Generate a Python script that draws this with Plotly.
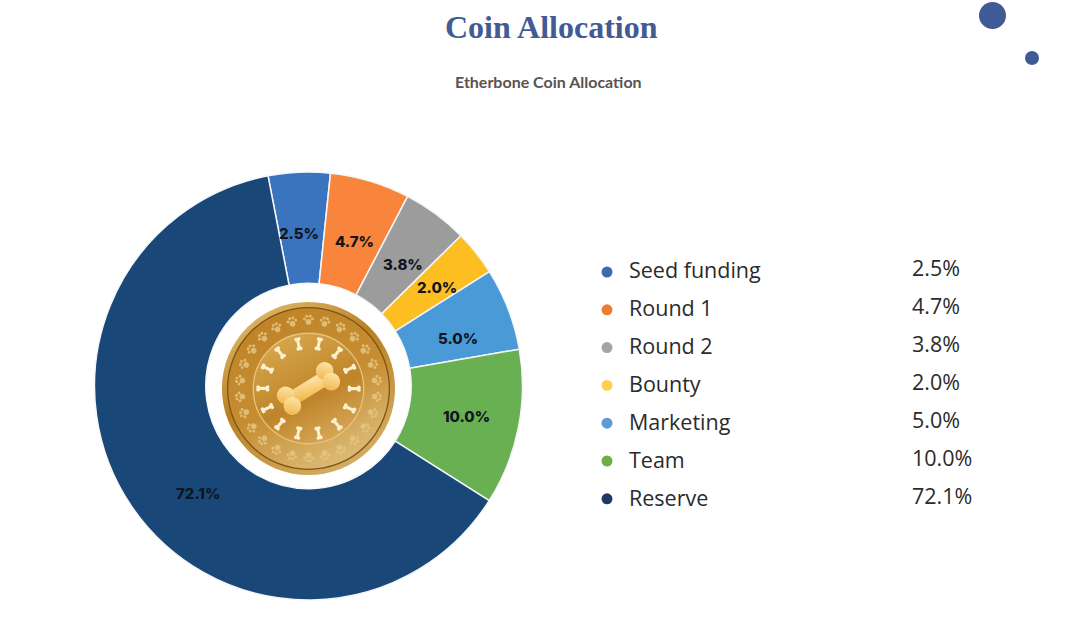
import base64
import math
import plotly.graph_objects as go

categories = ["Seed funding", "Round 1", "Round 2", "Bounty", "Marketing", "Team", "Reserve"]
# printed percentages
printed = ["2.5%", "4.7%", "3.8%", "2.0%", "5.0%", "10.0%", "72.1%"]
# wedge sizes as drawn in the picture (degrees), they do not follow the printed numbers
wedge_deg = [16.8, 21.7, 17.8, 12.3, 22.4, 42.3, 226.7]
slice_colors = ["#3A74BE", "#F9843B", "#9C9C9C", "#FDBE22", "#4A9AD8", "#69B052", "#184778"]
dot_colors = ["#4169B0", "#ED7D31", "#A5A5A5", "#FFD050", "#5B9BD5", "#70AD47", "#1F3864"]

# where each wedge label sits relative to the wedge middle
label_nudge_deg = [-1, 1, 1.3, 0.9, 3.3, -0.25, -9.85]
label_radius = [153, 152, 154, 162, 157, 161, 154]

START_DEG = -10.9
W, H = 1080, 617
CX, CY, R = 308.5, 386, 214


def px(x):
    return x / W


def py(y):
    return 1 - y / H


def bone(cx, cy, scale, angle, fill):
    return (
        f'<g transform="translate({cx:.1f} {cy:.1f}) rotate({angle:.1f}) scale({scale})" fill="{fill}">'
        '<rect x="-20" y="-7" width="40" height="14"/>'
        '<circle cx="-22" cy="-6" r="8.5"/><circle cx="-22" cy="6" r="8.5"/>'
        '<circle cx="22" cy="-6" r="8.5"/><circle cx="22" cy="6" r="8.5"/></g>'
    )


def paw(cx, cy, angle):
    return (
        f'<g transform="translate({cx:.1f} {cy:.1f}) rotate({angle:.1f}) scale(1.3)" fill="#E6C680" opacity="0.85">'
        '<circle cx="0" cy="3" r="5"/><circle cx="-7" cy="-2" r="2.6"/><circle cx="-3" cy="-7" r="2.6"/>'
        '<circle cx="3" cy="-7" r="2.6"/><circle cx="7" cy="-2" r="2.6"/></g>'
    )


def coin_svg():
    parts = [
        '<svg xmlns="http://www.w3.org/2000/svg" width="400" height="400" viewBox="0 0 400 400"><defs>',
        '<linearGradient id="rim" x1="0" y1="0" x2="0.6" y2="1"><stop offset="0" stop-color="#E9C77A"/>'
        '<stop offset="0.5" stop-color="#B97F22"/><stop offset="1" stop-color="#D2AB5E"/></linearGradient>',
        '<linearGradient id="band" x1="0.2" y1="0" x2="0.7" y2="1"><stop offset="0" stop-color="#BE8226"/>'
        '<stop offset="0.55" stop-color="#C68E33"/><stop offset="1" stop-color="#DDBE7C"/></linearGradient>',
        '<linearGradient id="mid" x1="0.2" y1="0" x2="0.7" y2="1"><stop offset="0" stop-color="#D9A94E"/>'
        '<stop offset="0.6" stop-color="#BE8429"/><stop offset="1" stop-color="#D8A95A"/></linearGradient>',
        '<linearGradient id="big" x1="0" y1="1" x2="1" y2="0"><stop offset="0" stop-color="#F0B13F"/>'
        '<stop offset="1" stop-color="#FFEBB8"/></linearGradient></defs>',
        '<circle cx="200" cy="200" r="199" fill="url(#rim)"/>',
        '<circle cx="200" cy="200" r="186" fill="url(#band)" stroke="#7E5313" stroke-width="3"/>',
        '<circle cx="200" cy="200" r="127" fill="url(#mid)" stroke="#E6C27C" stroke-width="3"/>',
    ]
    for i in range(26):
        a = math.radians(i * 360 / 26)
        parts.append(paw(200 + 157 * math.sin(a), 200 - 157 * math.cos(a), i * 360 / 26))
    for i in range(14):
        a = math.radians(i * 360 / 14 + 13)
        parts.append(bone(200 + 105 * math.sin(a), 200 - 105 * math.cos(a), 0.5,
                          i * 360 / 14 + 103, "#FBF0CF"))
    parts.append(bone(200, 200, 2.4, -32, "url(#big)"))
    parts.append("</svg>")
    return "".join(parts)


coin_src = "data:image/svg+xml;base64," + base64.b64encode(coin_svg().encode()).decode()

fig = go.Figure()

fig.add_trace(go.Pie(
    labels=categories,
    values=wedge_deg,
    textinfo="none",
    sort=False,
    direction="clockwise",
    rotation=START_DEG,
    hole=0.48,
    marker=dict(colors=slice_colors, line=dict(color="#F4F6F8", width=1.5)),
    domain=dict(x=[px(CX - R), px(CX + R)], y=[py(CY + R), py(CY - R)]),
    showlegend=False,
    hoverinfo="label",
))

# wedge labels, placed from the wedge angles
annotations = []
edge = START_DEG
for share, text, nudge, rad in zip(wedge_deg, printed, label_nudge_deg, label_radius):
    mid = math.radians(edge + share / 2 + nudge)
    edge += share
    annotations.append(dict(text=text, x=CX + rad * math.sin(mid), y=CY - rad * math.cos(mid),
                            xref="x", yref="y", showarrow=False,
                            font=dict(family="Inter", size=15, color="#10151F", weight=800)))

# legend table, drawn on a hidden pixel axis
dot_rows = [272 + 37.8 * i for i in range(len(categories))]
name_rows = [273 + 38 * i for i in range(len(categories))]
value_rows = [271 + 38 * i for i in range(len(categories))]
fig.add_trace(go.Scatter(x=[607] * 7, y=dot_rows, mode="markers",
                         marker=dict(size=11, color=dot_colors), showlegend=False, hoverinfo="skip"))
fig.add_trace(go.Scatter(x=[629] * 7, y=name_rows, mode="text", text=categories, textposition="middle right",
                         textfont=dict(family="Open Sans", size=21.5, color="#2B2B2B"),
                         showlegend=False, hoverinfo="skip"))
fig.add_trace(go.Scatter(x=[912] * 7, y=value_rows, mode="text", text=printed,
                         textposition="middle right",
                         textfont=dict(family="Open Sans", size=21.5, color="#2B2B2B"),
                         showlegend=False, hoverinfo="skip"))

annotations += [
    dict(text="<b>Coin Allocation</b>", x=551, y=27, xref="x", yref="y", showarrow=False,
         font=dict(family="Liberation Serif", size=32, color="#435A94")),
    dict(text="<b>Etherbone Coin Allocation</b>", x=548.5, y=81, xref="x", yref="y", showarrow=False,
         font=dict(family="Lato", size=16, color="#5A5350")),
]

fig.update_layout(
    width=W, height=H,
    margin=dict(l=0, r=0, t=0, b=0),
    paper_bgcolor="white", plot_bgcolor="rgba(0,0,0,0)",
    xaxis=dict(range=[0, W], visible=False, domain=[0, 1]),
    yaxis=dict(range=[H, 0], visible=False, domain=[0, 1]),
    images=[dict(source=coin_src, xref="paper", yref="paper", x=px(221.5), y=py(301.5),
                 sizex=174 / W, sizey=174 / H, xanchor="left", yanchor="top", sizing="stretch", layer="above")],
    shapes=[
        dict(type="circle", xref="x", yref="y", x0=979, x1=1006, y0=2, y1=29,
             fillcolor="#3F5A97", line_width=0),
        dict(type="circle", xref="x", yref="y", x0=1025, x1=1039, y0=51, y1=65,
             fillcolor="#3F5A97", line_width=0),
    ],
    annotations=annotations,
)

# the page's default body margin would push the figure 8px in
fig.write_html("out.html", config={"displayModeBar": False},
               post_script="document.body.style.margin='0';")
